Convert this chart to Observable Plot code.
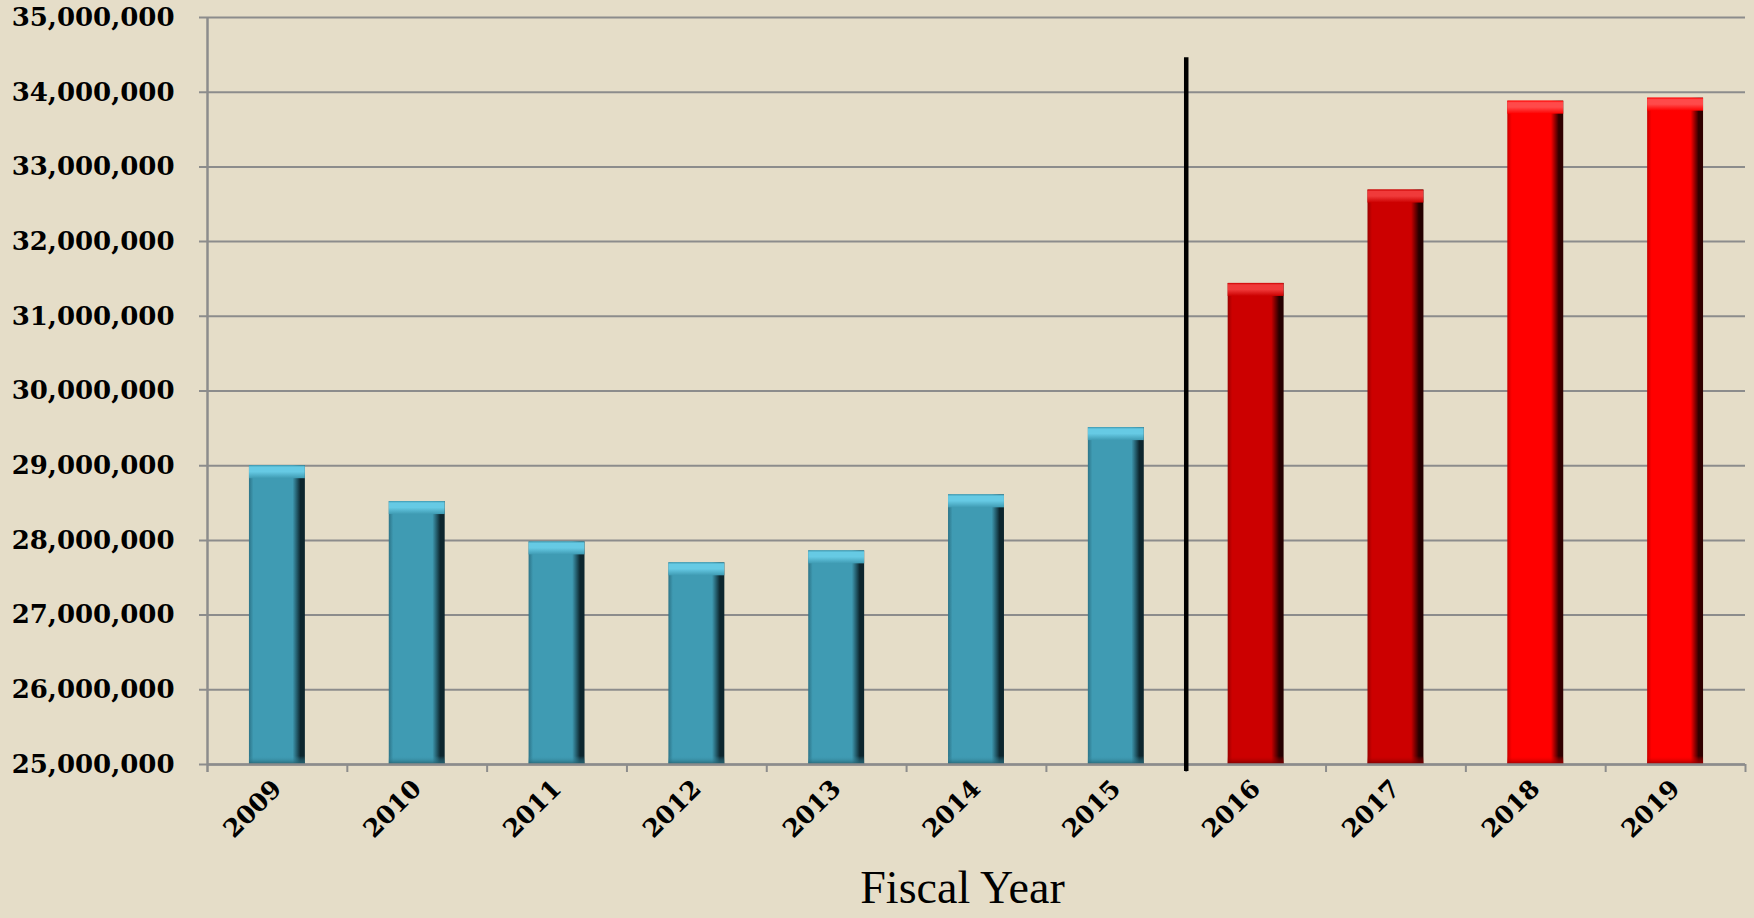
<!DOCTYPE html>
<html><head><meta charset="utf-8">
<script src="https://cdn.jsdelivr.net/npm/d3@7"></script>
<script src="https://cdn.jsdelivr.net/npm/@observablehq/plot@0.6"></script>
<style>
html,body{margin:0;padding:0;background:#E5DDC8;}
#chart svg{display:block;}
</style></head><body><div id="chart"></div>
<script>
// ---- data ----
const years  = ["2009","2010","2011","2012","2013","2014","2015","2016","2017","2018","2019"];
const values = [29000000, 28520000, 27980000, 27700000, 27860000, 28610000, 29510000, 31440000, 32690000, 33880000, 33920000];
const groups = ["actual","actual","actual","actual","actual","actual","actual","budget","budget","projected","projected"];
const yTicks = [25000000, 26000000, 27000000, 28000000, 29000000, 30000000, 31000000, 32000000, 33000000, 34000000, 35000000];
const dividerBefore = "2016";
const dividerTop = 34460000;
const xLabel = "Fiscal Year";

// ---- styles ----
const groupStyle = {
  actual:    {base:"#3F9BB3", light:"#66CAE4", edgeL:"#2C7488", edgeR:"#0D262E", bottom:"#23606F"},
  budget:    {base:"#CC0000", light:"#F03A3A", edgeL:"#9A0000", edgeR:"#250000", bottom:"#700000"},
  projected: {base:"#FF0000", light:"#FF4A4A", edgeL:"#C80000", edgeR:"#300000", bottom:"#900000"}
};
const W = 1754, H = 918, mL = 207, mR = 9, mT = 17, mB = 154;
const step = (W - mL - mR) / years.length;
const grid = "#8C8C8C";
const tickFont = "DejaVu Serif";

const data = years.map((year, i) => ({year, value: values[i], group: groups[i]}));
const y0 = yTicks[0], yMax = yTicks[yTicks.length - 1];

const barMarks = [];
for (const g of Object.keys(groupStyle)) {
  const sub = data.filter(d => d.group === g);
  barMarks.push(Plot.barY(sub, {x:"year", y1: y0, y2:"value", fill:`url(#body-${g})`}));
  barMarks.push(Plot.barY(sub, {x:"year", y1:"value", y2:"value", insetBottom:-13, fill:`url(#cap-${g})`}));
  barMarks.push(Plot.barY(sub, {x:"year", y1: y0, y2: y0, insetTop:-8, fill:`url(#bot-${g})`}));
}

const svg = Plot.plot({
  width: W, height: H,
  marginLeft: mL, marginRight: mR, marginTop: mT, marginBottom: mB,
  style: {background:"#E5DDC8", color:"black"},
  x: {domain: years, paddingInner: 0.6, paddingOuter: 0.3, round: false, label: null},
  y: {domain: [y0, yMax], label: null},
  marks: [
    Plot.gridY(yTicks, {stroke: grid, strokeWidth: 2, strokeOpacity: 1, insetLeft: -8}),
    Plot.ruleX([years[0]], {dx: -step/2, y1: yMax, y2: y0, stroke: grid, strokeWidth: 2.5, insetBottom: -8}),
    Plot.ruleX(years.slice(1), {dx: -step/2, y1: y0, y2: y0, stroke: grid, strokeWidth: 2, insetBottom: -8}),
    Plot.ruleX([years[years.length-1]], {dx: step/2, y1: y0, y2: y0, stroke: grid, strokeWidth: 2, insetBottom: -8}),
    ...barMarks,
    Plot.ruleY([y0], {stroke: grid, strokeWidth: 2.5}),
    Plot.ruleX([dividerBefore], {dx: -step/2, y1: dividerTop, y2: y0, stroke: "black", strokeWidth: 4.5, insetBottom: -7}),
    Plot.axisY(yTicks, {tickSize: 0, tickPadding: 33, tickFormat: d3.format(","), fontSize: 26, fontWeight: "bold", fontFamily: tickFont, fill: "black", label: null}),
    Plot.axisX({tickSize: 0, tickPadding: 20, tickRotate: -45, fontSize: 25, fontWeight: "bold", fontFamily: tickFont, fill: "black", label: null}),
    Plot.text([xLabel], {frameAnchor: "bottom", dy: 138, dx: -14, fontSize: 46, fontFamily: "Liberation Serif", fill: "black"})
  ]
});

// gradient definitions for bevel look
const defs = d3.select(svg).insert("defs", ":first-child");
for (const [g, s] of Object.entries(groupStyle)) {
  const b = defs.append("linearGradient").attr("id", `body-${g}`).attr("x1", 0).attr("x2", 1).attr("y1", 0).attr("y2", 0);
  [[0, s.edgeL],[0.08, s.base],[0.78, s.base],[0.92, s.edgeR],[1, s.edgeR]].forEach(([o,c]) =>
    b.append("stop").attr("offset", o).attr("stop-color", c));
  const c = defs.append("linearGradient").attr("id", `cap-${g}`).attr("x1", 0).attr("x2", 0).attr("y1", 0).attr("y2", 1);
  [[0, s.base],[0.15, s.light],[0.5, s.light],[1, s.base]].forEach(([o,cc]) =>
    c.append("stop").attr("offset", o).attr("stop-color", cc));
  const bt = defs.append("linearGradient").attr("id", `bot-${g}`).attr("x1", 0).attr("x2", 0).attr("y1", 0).attr("y2", 1);
  [[0, s.base],[1, s.bottom]].forEach(([o,cc]) =>
    bt.append("stop").attr("offset", o).attr("stop-color", cc).attr("stop-opacity", o ? 0.9 : 0));
}

document.getElementById("chart").appendChild(svg);
</script>
</body></html>
